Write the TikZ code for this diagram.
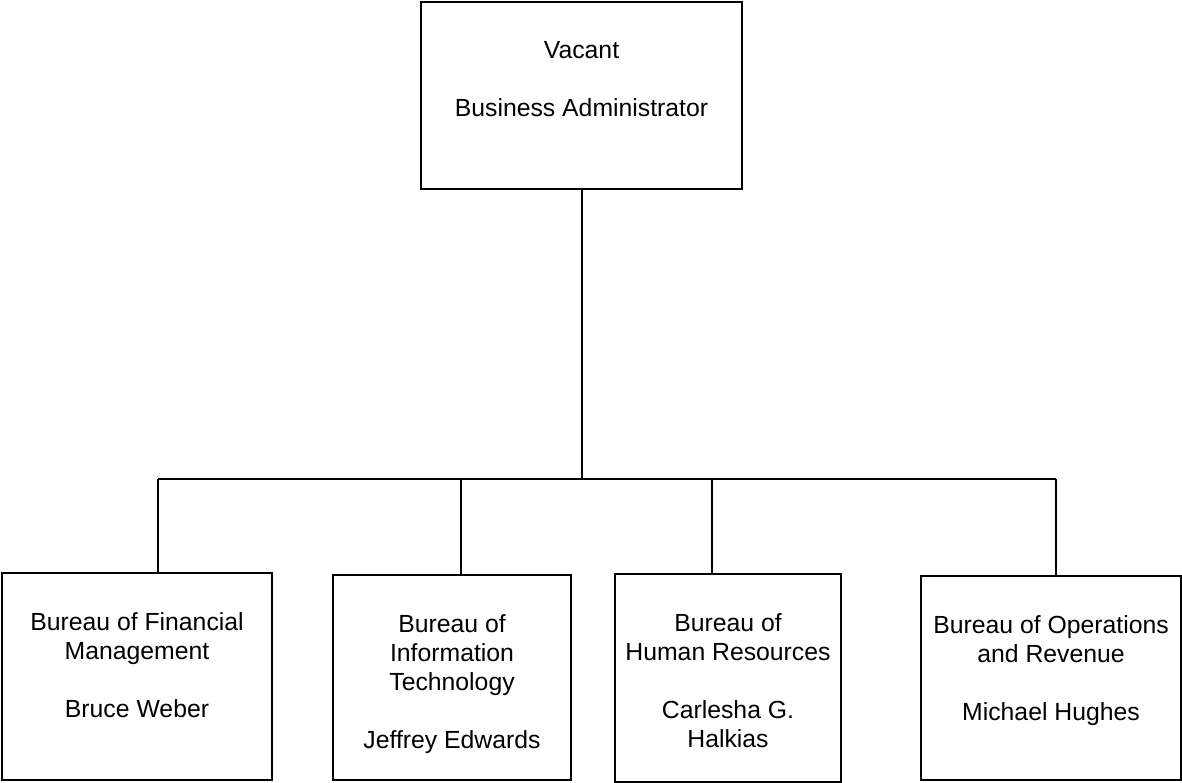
\documentclass[tikz,border=0pt]{standalone}
\usepackage{fontspec}
\setmainfont{Liberation Sans}
\usetikzlibrary{positioning}
\tikzset{
  box/.style={draw, line width=0.85pt, inner sep=0pt},
  boxtext/.style={align=center, inner sep=0pt, font=\fontsize{14.1}{16.5}\selectfont},
  wire/.style={line width=0.85pt}
}
\begin{document}
\begin{tikzpicture}[x=0.02cm, y=-0.02cm]
    \useasboundingbox (0,0) rectangle (1182,783);

    % head of the office
    \node[box, minimum width=6.42cm, minimum height=3.74cm] (admin) at (581.5,95.5) {};
    \node[boxtext, below=0.8cm of admin.north] (admintext) {Vacant\\[16.5pt]Business Administrator};

    % the four bureaus
    \node[box, minimum width=5.4cm, minimum height=4.14cm] (fin) at (137,676.5) {};
    \node[boxtext, below=0.8cm of fin.north] (fintext) {Bureau of Financial\\Management\\[16.5pt]Bruce Weber};

    \node[box, minimum width=4.76cm, minimum height=4.1cm] (it) at (452,677.5) {};
    \node[boxtext, below=0.8cm of it.north] (ittext) {Bureau of\\Information\\Technology\\[16.5pt]Jeffrey Edwards};

    \node[box, minimum width=4.52cm, minimum height=4.16cm] (hr) at (728,678) {};
    \node[boxtext, below=0.8cm of hr.north] (hrtext) {Bureau of\\Human Resources\\[16.5pt]Carlesha G.\\Halkias};

    \node[box, minimum width=5.2cm, minimum height=4.08cm] (ops) at (1051,678) {};
    \node[boxtext, below=0.8cm of ops.north] (opstext) {Bureau of Operations\\and Revenue\\[16.5pt]Michael Hughes};

    % tree lines
    \coordinate (jtop) at (582,479);
    \coordinate (jfin) at (158,479);
    \coordinate (jit) at (461,479);
    \coordinate (jhr) at (712,479);
    \coordinate (jops) at (1056,479);

    \draw[wire] (jtop |- admin.south) -- (jtop);
    \draw[wire] (jfin) -- (jops);
    \draw[wire] (jfin) -- (jfin |- fin.north);
    \draw[wire] (jit) -- (jit |- it.north);
    \draw[wire] (jhr) -- (jhr |- hr.north);
    \draw[wire] (jops) -- (jops |- ops.north);
  \end{tikzpicture}
\end{document}
